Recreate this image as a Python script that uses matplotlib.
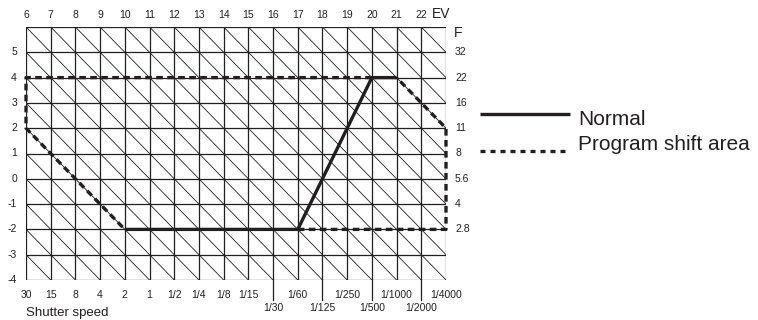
import numpy as np
import matplotlib.pyplot as plt
from matplotlib.lines import Line2D

plt.rcParams['font.family'] = ['Liberation Sans', 'DejaVu Sans']

# EV scale along the top, one column per EV step
ev_vals = list(range(6, 23))
# shutter speed labels for each column edge (EV 6 .. 23)
shutter_labels = ['30', '15', '8', '4', '2', '1', '1/2', '1/4', '1/8', '1/15',
                  '1/30', '1/60', '1/125', '1/250', '1/500', '1/1000', '1/2000', '1/4000']
shutter_pos = list(range(6, 24))
# aperture (F) labels on the right, and the left numbers
av_vals = [5, 4, 3, 2, 1, 0, -1, -2, -3, -4]
f_vals = [5, 4, 3, 2, 1, 0, -1, -2]
f_labels = ['32', '22', '16', '11', '8', '5.6', '4', '2.8']

# program lines (x = EV column, y = aperture row)
normal_x = [10, 17, 20, 21]
normal_y = [-2, -2, 4, 4]
shift_a_x = [20, 6, 6, 10]
shift_a_y = [4, 4, 2, -2]
shift_b_x = [17, 23, 23, 21]
shift_b_y = [-2, -2, 2, 4]

ink = '#231f20'

fig = plt.figure(figsize=(7.58, 3.2), dpi=100)
ax = fig.add_axes([26/758, 40/320, 420/758, 253/320])
x0, x1, y0, y1 = 6, 23, -4, 6
ax.set_xlim(x0, x1)
ax.set_ylim(y0, y1)
for s in ax.spines.values():
    s.set_visible(False)
ax.set_xticks([])
ax.set_yticks([])

# grid
ax.vlines(range(x0, x1 + 1), y0, y1, color=ink, lw=0.9)
ax.hlines(range(y0, y1 + 1), x0, x1, color=ink, lw=0.9)
for k in range(x0 + y0, x1 + y1 + 1):
    ax.plot([k - y1, k - y0], [y1, y0], color=ink, lw=0.6)

# lines
ax.plot(normal_x, normal_y, color=ink, lw=2.4, solid_capstyle='butt', zorder=5)
for xs, ys in [(shift_a_x, shift_a_y), (shift_b_x, shift_b_y)]:
    ax.plot(xs, ys, color=ink, lw=2.4, linestyle=(0, (2.0, 1.3)), zorder=4,
            clip_on=False)

# top EV labels
for v in ev_vals:
    ax.annotate(str(v), (v, 1), xycoords=('data', 'axes fraction'),
                xytext=(0, 9), textcoords='offset points', ha='center',
                va='center', fontsize=7.5, color=ink)
ax.annotate('EV', (22.8, 1), xycoords=('data', 'axes fraction'),
            xytext=(0, 9.5), textcoords='offset points', ha='center',
            va='center', fontsize=10, color=ink)

# left numbers
for v in av_vals:
    ax.annotate(str(v), (0, v), xycoords=('axes fraction', 'data'),
                xytext=(-6.5, 0), textcoords='offset points', ha='right',
                va='center', fontsize=7.5, color=ink)

# right F numbers
ax.annotate('F', (1, 5.75), xycoords=('axes fraction', 'data'),
            xytext=(6, 0), textcoords='offset points', ha='left',
            va='center', fontsize=10, color=ink)
for v, lab in zip(f_vals, f_labels):
    ax.annotate(lab, (1, v), xycoords=('axes fraction', 'data'),
                xytext=(6.5, 0), textcoords='offset points', ha='left',
                va='center', fontsize=7.5, color=ink)

# shutter speed labels, staggered from 1/30 on
for p, lab in zip(shutter_pos, shutter_labels):
    low = p >= 16 and (p - 16) % 2 == 0
    dy = -20 if low else -11
    ax.annotate(lab, (p, 0), xycoords=('data', 'axes fraction'),
                xytext=(0, dy), textcoords='offset points', ha='center',
                va='center', fontsize=7.5, color=ink)
    if low:
        ax.plot([p, p], [y0, y0 - 0.8], color=ink, lw=0.9, clip_on=False)
ax.annotate('Shutter speed', (0, 0), xycoords='axes fraction',
            xytext=(0, -24), textcoords='offset points', ha='left',
            va='center', fontsize=9.5, color=ink)

# legend drawn by hand
fig.add_artist(Line2D([480/758, 570/758], [1 - 114/320, 1 - 114/320],
                      color=ink, lw=2.4, solid_capstyle='butt'))
fig.add_artist(Line2D([480/758, 570/758], [1 - 151/320, 1 - 151/320],
                      color=ink, lw=2.4, linestyle=(0, (1.5, 1.5))))
fig.text(578/758, 1 - 125/320, 'Normal', fontsize=15, va='baseline', color=ink)
fig.text(578/758, 1 - 150/320, 'Program shift area', fontsize=15,
         va='baseline', color=ink)

fig.savefig('out.png', dpi=100)
